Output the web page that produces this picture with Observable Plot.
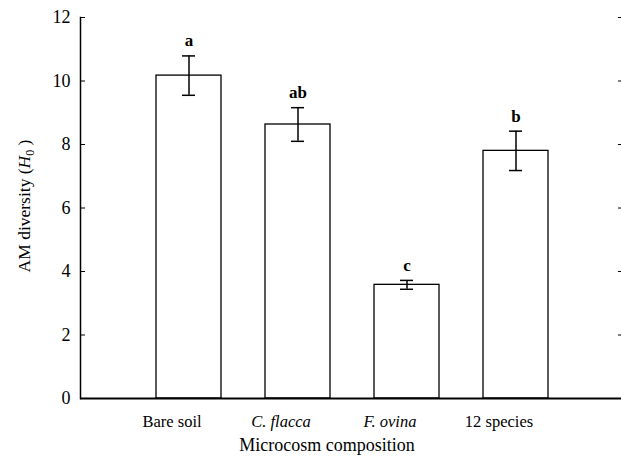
<!DOCTYPE html>
<html><head><meta charset="utf-8">
<script src="https://cdn.jsdelivr.net/npm/d3@7"></script>
<script src="https://cdn.jsdelivr.net/npm/@observablehq/plot@0.6"></script>
<style>
body{margin:0;background:#fff;}
#chart svg, #chart svg text { font-family: "Liberation Serif", "DejaVu Serif", "Times New Roman", Times, serif !important; }
</style>
</head><body><div id="chart"></div>
<script>
const categories = ["Bare soil", "C. flacca", "F. ovina", "12 species"];
const means = [10.17, 8.63, 3.58, 7.80];
const errors = [0.62, 0.53, 0.14, 0.62];
const letters = ["a", "ab", "c", "b"];
const italicCategories = ["C. flacca", "F. ovina"];
const yTicks = [0, 2, 4, 6, 8, 10, 12];
const xTitle = "Microcosm composition";

const data = categories.map((c, i) => ({
  composition: c, mean: means[i], se: errors[i], letter: letters[i],
  lo: means[i] - errors[i], hi: means[i] + errors[i]
}));

const plot = Plot.plot({
  width: 621, height: 460,
  marginTop: 17, marginBottom: 62, marginLeft: 80, marginRight: 0,
  style: "font-family: 'Liberation Serif', serif; font-size: 17px; color: #000; background: #fff;",
  x: {domain: categories, range: [134, 570], paddingInner: 0.4, paddingOuter: 0.2, label: null},
  y: {domain: [0, 12], label: null},
  marks: [
    Plot.barY(data, {x: "composition", y: "mean", fill: "#fff", stroke: "#000", strokeWidth: 1.3}),
    Plot.ruleX(data, {x: "composition", y1: "lo", y2: "hi", stroke: "#000", strokeWidth: 1.5}),
    Plot.tickY(data, {x: "composition", y: "lo", insetLeft: 26, insetRight: 26, stroke: "#000", strokeWidth: 1.5}),
    Plot.tickY(data, {x: "composition", y: "hi", insetLeft: 26, insetRight: 26, stroke: "#000", strokeWidth: 1.5}),
    Plot.text(data, {x: "composition", y: "hi", text: "letter", dy: -15, fontWeight: "bold", fontSize: 17, fill: "#000"}),
    Plot.axisY({ticks: yTicks, tickSize: -5, tickPadding: 15, label: null, fontSize: 18, tickFormat: d => String(d)}),
    Plot.axisY({anchor: "right", ticks: yTicks.filter(d => d > 0), tickSize: -4, tickFormat: () => "", label: null}),
    Plot.axisX({tickSize: 0, tickPadding: 17, dx: -17, label: null, fontSize: 16.5}),
    Plot.frame({anchor: "left", stroke: "#000", strokeWidth: 1.5}),
    Plot.ruleY([0], {stroke: "#000", strokeWidth: 2}),
    Plot.text([xTitle], {frameAnchor: "bottom", lineAnchor: "middle", dx: -24, dy: 47, fontSize: 18, fill: "#000"})
  ]
});

const svg = d3.select(plot);
svg.selectAll("g[aria-label='x-axis tick label'] text").each(function() {
  if (italicCategories.includes(this.textContent)) d3.select(this).attr("font-style", "italic");
});
const yl = svg.append("text")
  .attr("transform", "translate(30,206) rotate(-90)")
  .attr("text-anchor", "middle")
  .attr("font-size", 17.5)
  .attr("fill", "#000");
yl.append("tspan").text("AM diversity (");
yl.append("tspan").attr("font-style", "italic").text("H");
yl.append("tspan").attr("font-size", 12).attr("dy", 4).text("0");
yl.append("tspan").attr("dy", -4).text(" )");

document.getElementById("chart").appendChild(plot);
</script>
</body></html>
